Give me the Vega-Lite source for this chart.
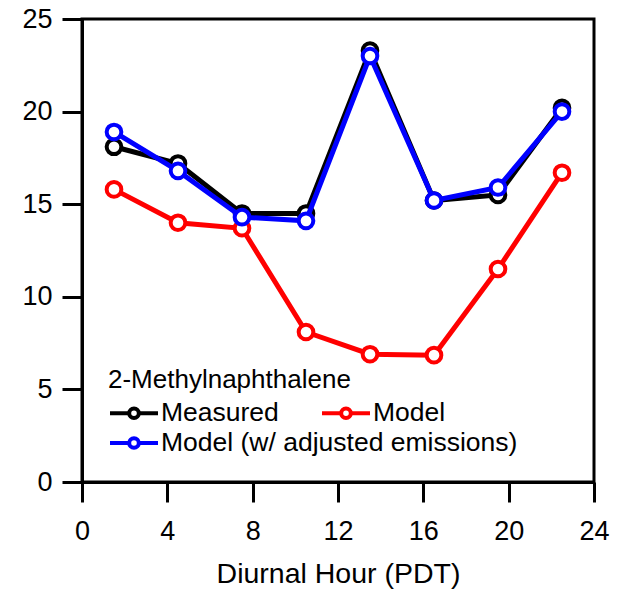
{
  "$schema": "https://vega.github.io/schema/vega-lite/v6.json",
  "autosize": "none",
  "width": 512,
  "height": 463,
  "padding": {"left": 82, "top": 19, "right": 30, "bottom": 115},
  "background": "white",
  "data": {
    "values": [
      {"hour": 1.5, "value": 18.1, "series": "Measured"},
      {"hour": 4.5, "value": 17.2, "series": "Measured"},
      {"hour": 7.5, "value": 14.5, "series": "Measured"},
      {"hour": 10.5, "value": 14.5, "series": "Measured"},
      {"hour": 13.5, "value": 23.3, "series": "Measured"},
      {"hour": 16.5, "value": 15.2, "series": "Measured"},
      {"hour": 19.5, "value": 15.5, "series": "Measured"},
      {"hour": 22.5, "value": 20.2, "series": "Measured"},
      {"hour": 1.5, "value": 15.8, "series": "Model"},
      {"hour": 4.5, "value": 14.0, "series": "Model"},
      {"hour": 7.5, "value": 13.7, "series": "Model"},
      {"hour": 10.5, "value": 8.1, "series": "Model"},
      {"hour": 13.5, "value": 6.9, "series": "Model"},
      {"hour": 16.5, "value": 6.85, "series": "Model"},
      {"hour": 19.5, "value": 11.5, "series": "Model"},
      {"hour": 22.5, "value": 16.7, "series": "Model"},
      {"hour": 1.5, "value": 18.9, "series": "Model (w/ adjusted emissions)"},
      {"hour": 4.5, "value": 16.8, "series": "Model (w/ adjusted emissions)"},
      {"hour": 7.5, "value": 14.3, "series": "Model (w/ adjusted emissions)"},
      {"hour": 10.5, "value": 14.1, "series": "Model (w/ adjusted emissions)"},
      {"hour": 13.5, "value": 23.0, "series": "Model (w/ adjusted emissions)"},
      {"hour": 16.5, "value": 15.2, "series": "Model (w/ adjusted emissions)"},
      {"hour": 19.5, "value": 15.9, "series": "Model (w/ adjusted emissions)"},
      {"hour": 22.5, "value": 20.0, "series": "Model (w/ adjusted emissions)"}
    ]
  },
  "encoding": {
    "x": {
      "field": "hour",
      "type": "quantitative",
      "title": "Diurnal Hour (PDT)",
      "scale": {"domain": [0, 24], "nice": false, "zero": false},
      "axis": {"values": [0, 4, 8, 12, 16, 20, 24], "labelPadding": 16, "titlePadding": 15}
    },
    "y": {
      "field": "value",
      "type": "quantitative",
      "title": null,
      "scale": {"domain": [0, 25], "nice": false},
      "axis": {"values": [0, 5, 10, 15, 20, 25], "labelPadding": 10}
    }
  },
  "layer": [
    {
      "transform": [{"filter": "datum.series === 'Measured'"}],
      "mark": {"type": "line", "strokeWidth": 5},
      "encoding": {
        "color": {
          "field": "series",
          "type": "nominal",
          "scale": {"domain": ["Measured", "Model"], "range": ["#000000", "#ff0000"]},
          "legend": {
            "title": "2-Methylnaphthalene",
            "orient": "none",
            "legendX": 26,
            "legendY": 348,
            "direction": "horizontal",
            "columnPadding": 35,
            "titlePadding": -6
          }
        }
      }
    },
    {
      "transform": [{"filter": "datum.series === 'Measured'"}],
      "mark": {"type": "point", "filled": false, "fill": "white", "fillOpacity": 1, "opacity": 1, "size": 215, "strokeWidth": 4},
      "encoding": {"color": {"field": "series", "type": "nominal"}}
    },
    {
      "transform": [{"filter": "datum.series === 'Model'"}],
      "mark": {"type": "line", "strokeWidth": 5},
      "encoding": {"color": {"field": "series", "type": "nominal"}}
    },
    {
      "transform": [{"filter": "datum.series === 'Model'"}],
      "mark": {"type": "point", "filled": false, "fill": "white", "fillOpacity": 1, "opacity": 1, "size": 215, "strokeWidth": 4},
      "encoding": {"color": {"field": "series", "type": "nominal"}}
    },
    {
      "transform": [{"filter": "datum.series === 'Model (w/ adjusted emissions)'"}],
      "mark": {"type": "line", "strokeWidth": 5},
      "encoding": {
        "stroke": {
          "field": "series",
          "type": "nominal",
          "scale": {"domain": ["Model (w/ adjusted emissions)"], "range": ["#0000ff"]},
          "legend": {
            "title": null,
            "orient": "none",
            "legendX": 26,
            "legendY": 398
          }
        }
      }
    },
    {
      "transform": [{"filter": "datum.series === 'Model (w/ adjusted emissions)'"}],
      "mark": {"type": "point", "filled": false, "fill": "white", "fillOpacity": 1, "opacity": 1, "size": 215, "strokeWidth": 4},
      "encoding": {"stroke": {"field": "series", "type": "nominal"}}
    }
  ],
  "config": {
    "font": "Liberation Sans",
    "view": {"stroke": "#000000", "strokeWidth": 3},
    "axis": {
      "grid": false,
      "domainColor": "#000000",
      "domainWidth": 3,
      "tickColor": "#000000",
      "tickWidth": 3,
      "tickSize": 20,
      "labelColor": "#000000",
      "labelFontSize": 27,
      "labelFont": "Liberation Sans",
      "titleColor": "#000000",
      "titleFontSize": 28.5,
      "titleFontWeight": "normal",
      "titleFont": "Liberation Sans",
      "labelFlush": false,
      "labelOverlap": false
    },
    "legend": {
      "padding": 0,
      "titleFontSize": 26,
      "titleFontWeight": "normal",
      "titleColor": "#000000",
      "titleFont": "Liberation Sans",
      "titleLimit": 0,
      "labelFontSize": 26.5,
      "labelColor": "#000000",
      "labelFont": "Liberation Sans",
      "labelLimit": 0,
      "labelOffset": 1,
      "symbolType": "M-1,0H-0.2M0.2,0H1M-0.2,0A0.2,0.2,0,1,1,0.2,0A0.2,0.2,0,1,1,-0.2,0Z",
      "symbolSize": 2304,
      "symbolStrokeWidth": 4,
      "symbolFillColor": "white"
    }
  }
}
